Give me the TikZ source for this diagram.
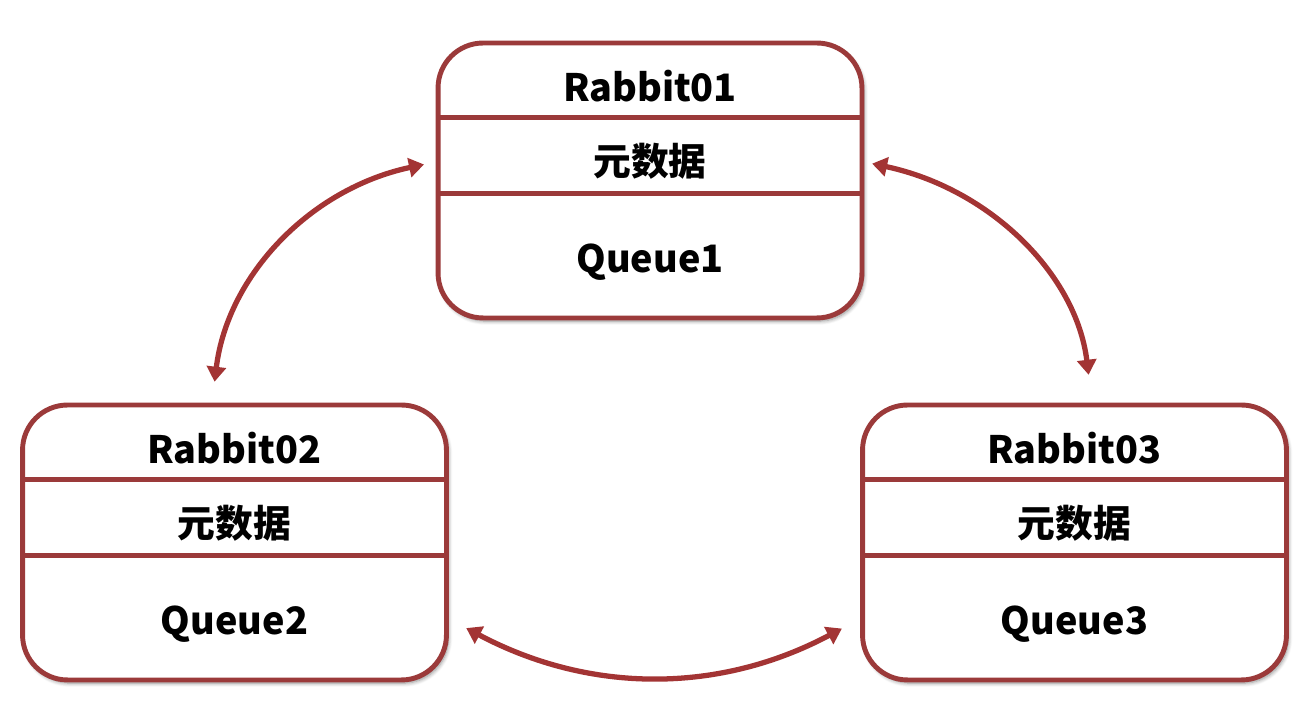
\documentclass[tikz,border=0pt]{standalone}
\usepackage{fontspec}
\setmainfont{Noto Sans CJK SC}
\usetikzlibrary{positioning,arrows.meta,shadows.blur}
\definecolor{boxred}{RGB}{155,58,58}
\definecolor{linkred}{RGB}{163,52,52}

\begin{document}
\begin{tikzpicture}[x=0.02cm, y=0.02cm, font=\fontsize{21.5}{26}\selectfont\bfseries]
  \tikzstyle{broker}=[draw=boxred, line width=2.8pt, rounded corners=0.9cm, fill=white, minimum width=8.48cm, minimum height=5.5cm, inner sep=0pt, blur shadow={shadow xshift=1.2pt, shadow yshift=-1.8pt, shadow blur steps=6, shadow opacity=45}]
  \tikzstyle{cell}=[minimum width=8.48cm, inner sep=0pt, text depth=0pt]
  \tikzstyle{divider}=[draw=boxred, line width=2.8pt]
  \tikzstyle{link}=[draw=linkred, line width=3pt, {Triangle[width=0.38cm,length=0.3cm]}-{Triangle[width=0.38cm,length=0.3cm]}]

  \useasboundingbox (0,0) rectangle (1303,719);

  \foreach \i / \x / \y in {1/650/538.5, 2/234.5/176.5, 3/1074.5/176.5} {
    \node[broker] (R\i) at (\x,\y) {};
    \node[cell, minimum height=1.52cm, text height=0.9cm, below=0pt of R\i.north] (R\i-name) {Rabbit0\i};
    \node[cell, minimum height=1.52cm, text height=0.78cm, below=0pt of R\i-name] (R\i-meta) {元数据};
    \node[cell, minimum height=2.46cm, text height=0.66cm, below=0pt of R\i-meta] (R\i-queue) {Queue\i};
    \draw[divider] (R\i-name.south west) -- (R\i-name.south east);
    \draw[divider] (R\i-meta.south west) -- (R\i-meta.south east);
  }

  \draw[link, shorten <=0.42cm, shorten >=0.28cm] ([xshift=-0.45cm]R2.north) to[out=83, in=192] ([yshift=-3.4pt]R1-meta.west);
  \draw[link, shorten <=0.2cm, shorten >=0.56cm] ([yshift=-3.4pt]R1-meta.east) to[out=-12, in=97] ([xshift=0.35cm]R3.north);
  \draw[link, shorten <=0.44cm, shorten >=0.46cm] (R2-queue.east) to[out=-28, in=208] (R3-queue.west);

\end{tikzpicture}
\end{document}
